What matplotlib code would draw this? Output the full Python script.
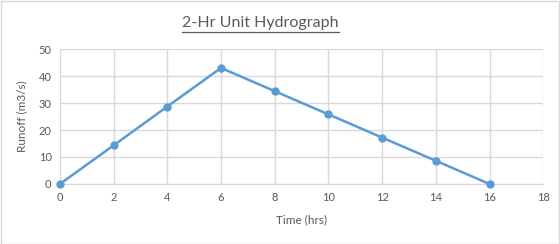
import matplotlib.pyplot as plt
from matplotlib.lines import Line2D

# Datos del hidrograma unitario de 2 horas
tiempo = [0, 2, 4, 6, 8, 10, 12, 14, 16]
caudal = [0, 14.3, 28.7, 43.0, 34.4, 25.8, 17.2, 8.6, 0]
ticks_x = [0, 2, 4, 6, 8, 10, 12, 14, 16, 18]
ticks_y = [0, 10, 20, 30, 40, 50]

plt.rcParams['font.family'] = ['Lato', 'DejaVu Sans']
gris_texto = '#595959'
gris_rejilla = '#D9D9D9'
azul = '#5B9BD5'

fig = plt.figure(figsize=(5.6, 2.44), dpi=100)
ax = fig.add_axes([0.107, 0.246, 0.863, 0.553])

ax.plot(tiempo, caudal, color=azul, linewidth=1.8, marker='o',
        markersize=5, zorder=3, clip_on=False)

ax.set_xlim(0, 18)
ax.set_ylim(0, 50)
ax.set_xticks(ticks_x)
ax.set_yticks(ticks_y)
ax.grid(True, color=gris_rejilla, linewidth=1)
ax.set_axisbelow(True)
for lado in ['left', 'right', 'top']:
    ax.spines[lado].set_visible(False)
ax.spines['bottom'].set_color(gris_rejilla)
ax.tick_params(length=0, labelsize=8, colors=gris_texto, pad=6)

ax.set_xlabel('Time (hrs)', fontsize=8.5, color=gris_texto, labelpad=8)
ax.set_ylabel('Runoff (m3/s)', fontsize=8.5, color=gris_texto, labelpad=8)

titulo = fig.text(0.465, 0.905, '2-Hr Unit Hydrograph', ha='center', va='center',
                  fontsize=11.5, color=gris_texto)

# Subrayado del título
fig.canvas.draw()
caja = titulo.get_window_extent().transformed(fig.transFigure.inverted())
y_sub = caja.y0 - 0.008
fig.add_artist(Line2D([caja.x0, caja.x1], [y_sub, y_sub], color=gris_texto,
                      linewidth=0.9, transform=fig.transFigure))

# Borde exterior del gráfico
fig.add_artist(plt.Rectangle((0.001, 0.002), 0.997, 0.995, fill=False,
                             edgecolor=gris_rejilla, linewidth=1,
                             transform=fig.transFigure))

fig.savefig('out.png', dpi=100)
